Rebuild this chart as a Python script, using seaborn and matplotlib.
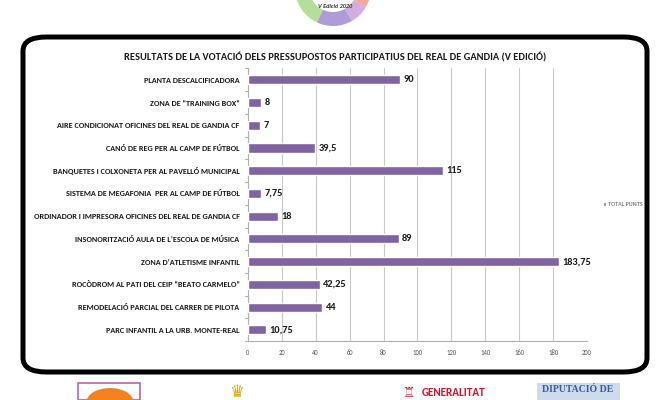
import matplotlib
matplotlib.use("Agg")
import matplotlib.pyplot as plt
from matplotlib.patches import FancyBboxPatch, Rectangle, Wedge, Circle
from matplotlib.transforms import Affine2D
import seaborn as sns
import pandas as pd

categories = [
    "PLANTA DESCALCIFICADORA",
    "ZONA DE \u201cTRAINING BOX\u201d",
    "AIRE CONDICIONAT OFICINES DEL REAL DE GANDIA CF",
    "CANÓ DE REG PER AL CAMP DE FÚTBOL",
    "BANQUETES I COLXONETA PER AL PAVELLÓ MUNICIPAL",
    "SISTEMA DE MEGAFONIA  PER AL CAMP DE FÚTBOL",
    "ORDINADOR I IMPRESORA OFICINES DEL REAL DE GANDIA CF",
    "INSONORITZACIÓ AULA DE L\u2019ESCOLA DE MÚSICA",
    "ZONA D\u2019ATLETISME INFANTIL",
    "ROCÒDROM AL PATI DEL CEIP \u201cBEATO CARMELO\u201d",
    "REMODELACIÓ PARCIAL DEL CARRER DE PILOTA",
    "PARC INFANTIL A LA URB. MONTE-REAL",
]
values = [90, 8, 7, 39.5, 115, 7.75, 18, 89, 183.75, 42.25, 44, 10.75]
value_labels = ["90", "8", "7", "39,5", "115", "7,75", "18", "89", "183,75", "42,25", "44", "10,75"]
x_ticks = [0, 20, 40, 60, 80, 100, 120, 140, 160, 180, 200]
series_name = "TOTAL PUNTS"
title = "RESULTATS DE LA VOTACIÓ DELS PRESSUPOSTOS PARTICIPATIUS DEL REAL DE GANDIA (V EDICIÓ)"

df = pd.DataFrame({"cat": categories, "val": values, "serie": series_name})

sns.set_theme(style="white")
plt.rcParams["font.family"] = ["Carlito", "Archivo Narrow", "DejaVu Sans"]

W, H = 670, 400
fig = plt.figure(figsize=(6.7, 4.0), dpi=100)
fig.patch.set_facecolor("white")

def fx(px):
    return px / W

def fy(py):
    return 1 - py / H

pix = Affine2D().scale(1, -1).translate(0, H) + fig.dpi_scale_trans.inverted() + fig.dpi_scale_trans

# rounded frame
frame = FancyBboxPatch((fx(23), fy(372)), fx(624), 335 / H, boxstyle="round,pad=0,rounding_size=0.035",
                       transform=fig.transFigure, facecolor="none", edgecolor="black",
                       linewidth=3.6, zorder=-1)
fig.patches.append(frame)

ax = fig.add_axes([0.370, 0.147, 0.506, 0.682])
ax.set_facecolor("none")
purple = "#8064A2"
sns.barplot(data=df, y="cat", x="val", hue="serie", palette=[purple], orient="h",
            width=0.40, saturation=1, ax=ax, zorder=3, legend=True)

n = len(categories)
ax.set_xlim(0, 200)
ax.set_xticks(x_ticks)
ax.set_xticklabels([str(t) for t in x_ticks], fontsize=4.8, color="#555555")
ax.tick_params(axis="x", length=2.5, color="#aaaaaa", pad=3)
ax.tick_params(axis="y", length=0, pad=6)
for lab in ax.get_yticklabels():
    lab.set_fontsize(5.9)
    lab.set_fontweight("bold")
    lab.set_color("#1a1a1a")
ax.set_xlabel("")
ax.set_ylabel("")
ax.grid(axis="x", color="#c8c8c8", linewidth=0.8, zorder=0)
for s in ["top", "right"]:
    ax.spines[s].set_visible(False)
for s in ["left", "bottom"]:
    ax.spines[s].set_color("#b0b0b0")
    ax.spines[s].set_linewidth(0.8)

# category boundary ticks on left axis
for i in range(n + 1):
    ax.plot([-2.0, 0], [i - 0.5, i - 0.5], color="#b0b0b0", lw=0.8, clip_on=False)
ax.set_xlim(0, 200)
ax.set_ylim(n - 0.5, -0.5)

for i, (v, t) in enumerate(zip(values, value_labels)):
    ax.text(v + 2.0, i, t, va="center", ha="left", fontsize=7.5, fontweight="bold", color="#1a1a1a")

leg = ax.legend(loc="center left", bbox_to_anchor=(1.03, 0.5), frameon=False, fontsize=4.4,
                handlelength=0.6, handleheight=0.6, handletextpad=0.3)
for t in leg.get_texts():
    t.set_color("#555555")

fig.text(0.5, fy(57), title, ha="center", va="center", fontsize=7.5, fontweight="bold", color="#1a1a1a")

# ---- decorative logos ----
# top logo (partial circle)
for t1, t2, col in [(180, 245, "#a8d98a"), (245, 300, "#a08ad0"), (300, 330, "#c9a0d8"), (330, 360, "#f29a86")]:
    wd = Wedge((333, -12), 38, -t2, -t1, facecolor=col, edgecolor="none", alpha=0.85)
    wd.set_transform(pix)
    fig.patches.append(wd)
inner = Circle((333, -12), 24, facecolor="white", edgecolor="none")
inner.set_transform(pix)
fig.patches.append(inner)
fig.text(fx(335), fy(7), "V Edició 2020", ha="center", va="center", fontsize=4.5, style="italic",
         fontweight="bold", color="#333333")

# bottom left logo: pink box with orange circle
fig.patches.append(Rectangle((fx(78), fy(400)), fx(62), 17 / H, transform=fig.transFigure,
                             facecolor="none", edgecolor="#c060a8", linewidth=1.2))
fig.patches.append(Circle((fx(110), fy(402)), 0.035, transform=fig.transFigure,
                          facecolor="#f5821f", edgecolor="none"))
# crown
fig.text(fx(237), fy(392), "\u265b", ha="center", va="center", fontsize=12, color="#e0a020",
         family=["DejaVu Sans"])

# GENERALITAT
fig.text(fx(409), fy(393), "\u2656", ha="center", va="center", fontsize=10, color="#d0112b",
         family=["DejaVu Sans"])
fig.text(fx(422), fy(393), "GENERALITAT", ha="left", va="center", fontsize=8, fontweight="bold",
         color="#d0112b", family=["Carlito", "DejaVu Sans"])
# DIPUTACIÓ DE
fig.patches.append(Rectangle((fx(537), fy(400)), fx(83), 17 / H, transform=fig.transFigure,
                             facecolor="#cddbec", edgecolor="none"))
fig.text(fx(578), fy(390), "DIPUTACIÓ DE", ha="center", va="center", fontsize=7, fontweight="bold",
         color="#3a5a9a", family=["Liberation Serif", "DejaVu Serif"])

fig.savefig("out.png", dpi=100, facecolor="white")
